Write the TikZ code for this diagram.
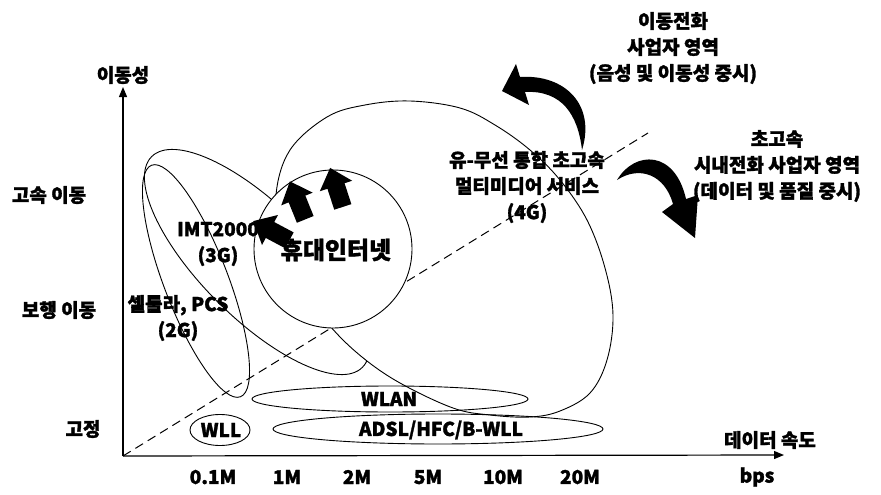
\documentclass[tikz,border=0pt]{standalone}
\usepackage{fontspec}
\setmainfont{Noto Sans CJK KR}[FakeBold=1.6]
\usetikzlibrary{arrows.meta}
\begin{document}
\begin{tikzpicture}[x=1pt,y=-1pt,
  shapeline/.style={line width=0.9pt},
  axisline/.style={line width=1.2pt,-{Triangle[length=10pt,width=8pt]}},
  dashline/.style={line width=1pt,dash pattern=on 9pt off 5.5pt},
  lbl/.style={font=\fontsize{19}{26}\selectfont\bfseries,align=center,inner sep=0pt},
  biglbl/.style={font=\fontsize{24}{28}\selectfont\bfseries,inner sep=0pt},
  blk/.pic={\fill[black] (-22,-9) -- (0,-9) -- (0,-17) -- (19,0) -- (0,17) -- (0,9) -- (-22,9) -- cycle;}]
\useasboundingbox (0,0) rectangle (881,495);

% 2G and 3G ellipses
\draw[shapeline,rotate around={-69:(196,281)}] (196,281) ellipse [x radius=124,y radius=32];
\draw[shapeline,rotate around={-45:(257,262)}] (257,262) ellipse [x radius=149,y radius=56];

% 4G region
\draw[shapeline,fill=white] plot[smooth cycle,tension=0.6] coordinates {
 (276,195) (290,150) (327,117) (365,105) (410,101) (460,108) (495,125)
 (530,150) (560,180) (587,220) (605,268) (613,315) (607,360) (590,393)
 (560,411) (530,417) (490,415) (453,408) (400,383) (362,357) (330,326)
 (300,285) (282,240)};

% axes coordinates
\coordinate (O) at (123,456);
\coordinate (Yt) at (123,87);
\coordinate (Xt) at (784,455);
\coordinate (D) at (648,133);

\draw[dashline] (O) -- (D);

% portable internet circle
\draw[shapeline,fill=white] (333,249) circle [radius=79];

\pic[rotate=152] at (270,230) {blk};
\pic[rotate=112] at (297,199) {blk};
\pic[rotate=108] at (336,186) {blk};

% fixed-access ellipses
\draw[shapeline] (220,430) ellipse [x radius=30,y radius=15.5];
\draw[shapeline] (390,399) ellipse [x radius=138,y radius=13];
\draw[shapeline] (438,429) ellipse [x radius=165,y radius=15];

% axes
\draw[axisline] (O) -- (Yt);
\draw[axisline] (O) -- (Xt);

% curved block arrows
\fill[black] (582,150) .. controls (596,105) and (565,74) .. (520,77)
   -- (516,64) -- (502,91) -- (529,105) -- (525,92)
   .. controls (562,90) and (578,115) .. (582,150) -- cycle;
\fill[black] (617,180) .. controls (635,150) and (675,150) .. (686,199)
   -- (698,195) -- (695,238) -- (662,212) -- (673,204)
   .. controls (665,175) and (640,165) .. (617,180) -- cycle;

% labels
\node[lbl] (ylab) at (123,75) {이동성};
\node[lbl] (y3) at (49,195) {고속 이동};
\node[lbl] (y2) at (59,310) {보행 이동};
\node[lbl] (y1) at (83,429) {고정};
\node[lbl] (xlab) at (770,440) {데이터 속도};
\node[lbl] (t01) at (213,477) {0.1M};
\node[lbl] (t1) at (287,477) {1M};
\node[lbl] (t2) at (357,477) {2M};
\node[lbl] (t5) at (428,477) {5M};
\node[lbl] (t10) at (503,477) {10M};
\node[lbl] (t20) at (580,477) {20M};
\node[lbl] (bps) at (757,477) {bps};

\node[lbl] (wll) at (221,430) {WLL};
\node[lbl] (wlan) at (389,399) {WLAN};
\node[lbl] (adsl) at (441,430) {ADSL/HFC/B-WLL};
\node[lbl] (g2) at (178,318) {셀룰라, PCS\\(2G)};
\node[lbl] (g3) at (218,244) {IMT2000\\(3G)};
\node[biglbl] (pi) at (336,250) {휴대인터넷};
\node[lbl] (g4) at (527,187) {유-무선 통합 초고속\\멀티미디어 서비스\\(4G)};
\node[lbl] (mob) at (673,48) {이동전화\\사업자 영역\\(음성 및 이동성 중시)};
\node[lbl] (fix) at (777,166) {초고속\\시내전화 사업자 영역\\(데이터 및 품질 중시)};
\end{tikzpicture}
\end{document}
